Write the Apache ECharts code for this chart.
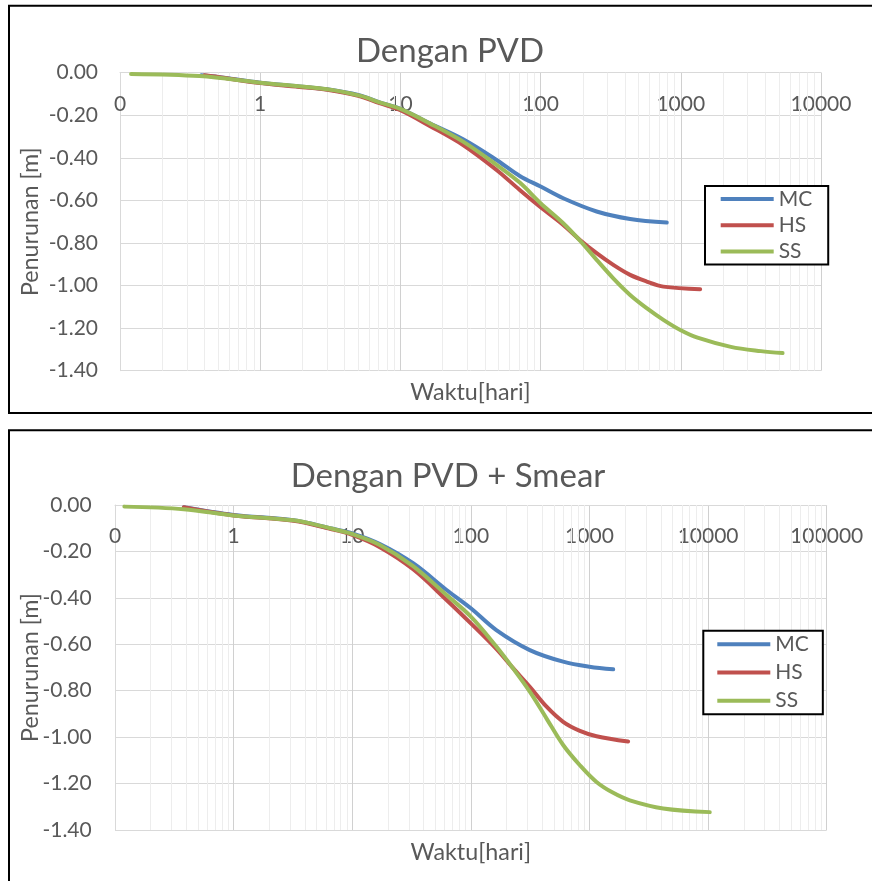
<!DOCTYPE html>
<html>
<head>
<meta charset="utf-8">
<script src="https://cdn.jsdelivr.net/npm/echarts@6/dist/echarts.min.js"></script>
<style>
html,body{margin:0;padding:0;background:#fff;}
#c{width:872px;height:881px;}
</style>
</head>
<body>
<div id="c"></div>
<script>
// ---- Chart 1: Dengan PVD ----
const title1 = 'Dengan PVD';
const t1MC = [0.38, 0.5, 1, 2, 3, 5, 7.1, 10, 16.2, 28, 48.5, 71, 100, 145, 251, 435, 794];
const v1MC = [-0.012, -0.02, -0.047, -0.066, -0.078, -0.105, -0.139, -0.17, -0.238, -0.313, -0.41, -0.485, -0.535, -0.59, -0.652, -0.687, -0.704];
const t1HS = [0.4, 0.5, 1, 2, 3, 5, 7.1, 10, 16.2, 28, 48.5, 71, 100, 145, 191, 251, 330, 435, 571, 751, 1374];
const v1HS = [-0.012, -0.02, -0.049, -0.068, -0.08, -0.108, -0.143, -0.176, -0.25, -0.34, -0.457, -0.551, -0.632, -0.715, -0.786, -0.848, -0.903, -0.95, -0.981, -1.005, -1.017];
const t1SS = [0.12, 0.37, 1, 3, 5.2, 7.1, 10, 16.2, 28, 48.5, 71, 100, 145, 191, 251, 330, 435, 571, 751, 1000, 1316, 2275, 3727, 5320];
const v1SS = [-0.006, -0.016, -0.047, -0.078, -0.109, -0.139, -0.17, -0.238, -0.324, -0.433, -0.516, -0.613, -0.707, -0.789, -0.879, -0.966, -1.044, -1.106, -1.161, -1.21, -1.245, -1.288, -1.308, -1.317];

// ---- Chart 2: Dengan PVD + Smear ----
const title2 = 'Dengan PVD + Smear';
const t2MC = [0.38, 1, 3.2, 6.5, 10, 17.1, 32.6, 62.4, 100, 164, 314, 600, 1000, 1585];
const v2MC = [-0.01, -0.043, -0.066, -0.1, -0.122, -0.168, -0.251, -0.366, -0.445, -0.539, -0.625, -0.675, -0.697, -0.708];
const t2HS = [0.38, 1, 3.2, 6.5, 10, 17.1, 32.6, 62.4, 100, 164, 227, 314, 435, 600, 830, 1146, 2118];
const v2HS = [-0.01, -0.045, -0.068, -0.103, -0.129, -0.182, -0.277, -0.409, -0.51, -0.62, -0.703, -0.783, -0.869, -0.934, -0.973, -0.996, -1.019];
const t2SS = [0.12, 0.38, 1, 3.2, 6.5, 10, 17.1, 32.6, 62.4, 100, 164, 227, 314, 435, 600, 830, 1146, 1585, 2188, 4182, 10330];
const v2SS = [-0.007, -0.018, -0.045, -0.066, -0.1, -0.125, -0.172, -0.263, -0.388, -0.481, -0.61, -0.704, -0.804, -0.92, -1.034, -1.121, -1.193, -1.24, -1.272, -1.307, -1.323];

const seriesNames = ['MC', 'HS', 'SS'];
const xName = 'Waktu[hari]';
const yName = 'Penurunan [m]';
const xMax1 = 10000;
const xMax2 = 100000;
const yMin = -1.4, yMax = 0, yStep = 0.2;

const colors = ['#4F81BD', '#C0504D', '#9BBB59'];
const FONT = 'Lato';
const TXT = '#595959';

function pairs(t, v) { return t.map((x, i) => [x, v[i]]); }
function minorVals(maxV) {
  const out = [];
  for (let d = 0.1; d < maxV * 0.99; d *= 10) {
    for (let k = 2; k <= 9; k++) out.push(+(d * k).toPrecision(6));
  }
  return out;
}

const chart = echarts.init(document.getElementById('c'), null, {renderer: 'canvas'});

const grids = [
  {left: 120, top: 72.7, width: 701, height: 298},
  {left: 115, top: 505, width: 711.7, height: 325}
];

function xAxesFor(gi, maxV, labelMargin, nameGap) {
  return [
    {
      type: 'log', logBase: 10, gridIndex: gi, min: 0.1, max: maxV,
      splitNumber: Math.round(Math.log10(maxV / 0.1)),
      position: 'top',
      axisLine: {show: true, onZero: false, lineStyle: {color: '#D9D9D9', width: 1}},
      axisTick: {show: false},
      axisLabel: {
        inside: true, margin: labelMargin, verticalAlign: 'middle',
        fontFamily: FONT, fontSize: 21, color: TXT,
        formatter: v => (v < 0.5 ? '0' : String(Math.round(v)))
      },
      splitLine: {show: true, lineStyle: {color: '#D0D0D0', width: 1}}
    },
    {
      type: 'log', logBase: 10, gridIndex: gi, min: 0.1, max: maxV,
      position: 'bottom',
      axisLine: {show: false}, axisTick: {show: false}, axisLabel: {show: false}, splitLine: {show: false},
      name: xName, nameLocation: 'middle', nameGap: nameGap, nameMoveOverlap: false,
      nameTextStyle: {fontFamily: FONT, fontSize: 23.3, color: TXT, verticalAlign: 'middle'}
    }
  ];
}

function yAxisFor(gi, labelMargin, nameGap) {
  return {
    type: 'value', gridIndex: gi, min: yMin, max: yMax, interval: yStep,
    axisLine: {show: true, onZero: false, lineStyle: {color: '#D9D9D9', width: 1}},
    axisTick: {show: false},
    axisLabel: {
      margin: labelMargin, fontFamily: FONT, fontSize: 21, color: TXT,
      formatter: v => (Math.abs(v) < 1e-9 ? 0 : v).toFixed(2)
    },
    splitLine: {show: true, lineStyle: {color: '#D9D9D9', width: 1}},
    name: yName, nameLocation: 'middle', nameGap: nameGap, nameRotate: 90, nameMoveOverlap: false,
    nameTextStyle: {fontFamily: FONT, fontSize: 23.3, color: TXT, verticalAlign: 'middle'}
  };
}

function lineSeries(name, idx, xi, yi, data) {
  return {
    name: name, type: 'line', xAxisIndex: xi, yAxisIndex: yi,
    data: data, smooth: 0.35, showSymbol: false, symbol: 'none',
    lineStyle: {color: colors[idx], width: 4, cap: 'round', join: 'round'},
    itemStyle: {color: colors[idx]},
    z: 3, animation: false
  };
}

function minorSeries(xi, yi, maxV) {
  return {
    name: '_minor' + xi, type: 'line', xAxisIndex: xi, yAxisIndex: yi, data: [],
    silent: true, z: 1, animation: false,
    markLine: {
      silent: true, symbol: 'none', z: 1, animation: false,
      label: {show: false},
      lineStyle: {color: '#EDEDED', width: 1, type: 'solid'},
      emphasis: {disabled: true},
      data: minorVals(maxV).map(v => ({xAxis: v}))
    }
  };
}

function legendFor(left, top, gap, padding) {
  return {
    data: seriesNames, orient: 'vertical', left: left, top: top,
    itemGap: gap, itemWidth: 53, itemHeight: 4, icon: 'rect',
    padding: padding, borderColor: '#000', borderWidth: 2, backgroundColor: '#fff',
    selectedMode: false,
    textStyle: {fontFamily: FONT, fontSize: 21, color: TXT, lineHeight: 22}
  };
}

const option = {
  backgroundColor: '#fff',
  animation: false,
  title: [
    {text: title1, left: 445, top: 30, textAlign: 'center',
     textStyle: {fontFamily: FONT, fontSize: 33, fontWeight: 'normal', color: TXT}},
    {text: title2, left: 443, top: 455, textAlign: 'center',
     textStyle: {fontFamily: FONT, fontSize: 33, fontWeight: 'normal', color: TXT}}
  ],
  legend: [
    legendFor(705, 186, 4.2, [2, 16, 2, 15.7]),
    legendFor(703.3, 630.7, 6.2, [2.6, 14, 2.6, 14])
  ],
  grid: grids,
  xAxis: [].concat(xAxesFor(0, xMax1, 32, 21.5), xAxesFor(1, xMax2, 31.5, 22)),
  yAxis: [yAxisFor(0, 22, 89.5), yAxisFor(1, 23.3, 85)],
  graphic: [
    {type: 'rect', shape: {x: 9, y: 5.7, width: 900, height: 407.3}, style: {fill: 'none', stroke: '#000', lineWidth: 2}, z: 100, silent: true},
    {type: 'rect', shape: {x: 9, y: 430.3, width: 900, height: 500}, style: {fill: 'none', stroke: '#000', lineWidth: 2}, z: 100, silent: true}
  ],
  series: [
    minorSeries(0, 0, xMax1),
    lineSeries('MC', 0, 0, 0, pairs(t1MC, v1MC)),
    lineSeries('HS', 1, 0, 0, pairs(t1HS, v1HS)),
    lineSeries('SS', 2, 0, 0, pairs(t1SS, v1SS)),
    minorSeries(2, 1, xMax2),
    lineSeries('MC', 0, 2, 1, pairs(t2MC, v2MC)),
    lineSeries('HS', 1, 2, 1, pairs(t2HS, v2HS)),
    lineSeries('SS', 2, 2, 1, pairs(t2SS, v2SS))
  ]
};
chart.setOption(option);
</script>
</body>
</html>
